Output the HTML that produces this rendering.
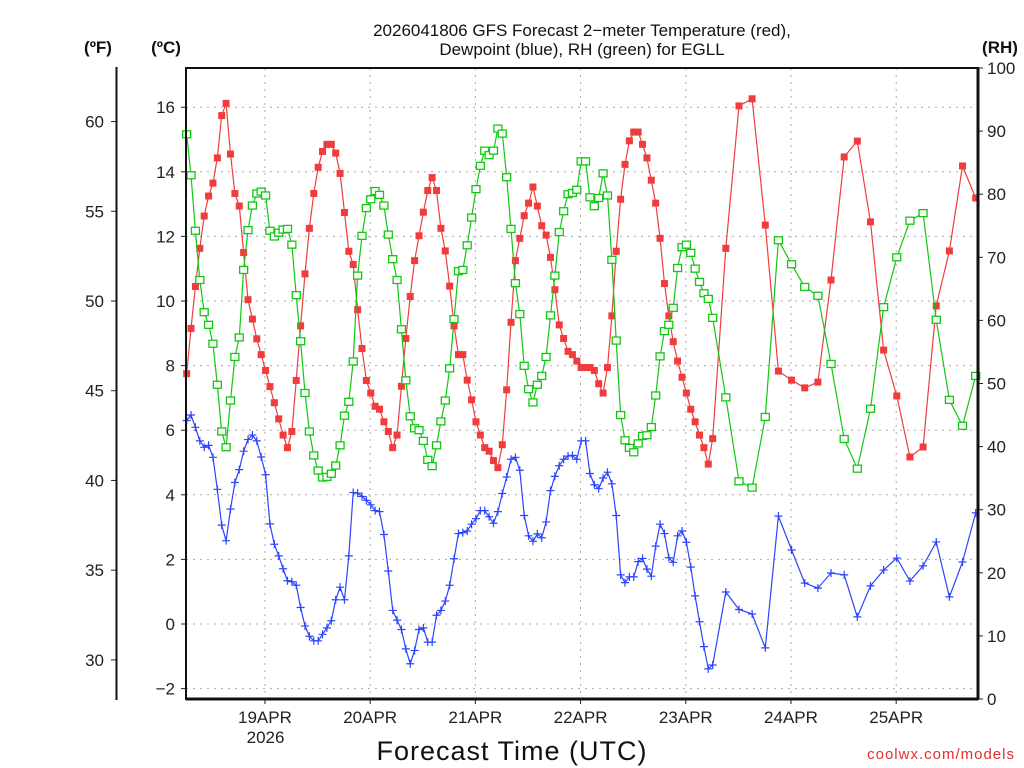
<!DOCTYPE html>
<html><head><meta charset="utf-8"><style>
body{margin:0;background:#fff;}
svg{display:block;font-family:"Liberation Sans",sans-serif;}
</style></head><body>
<svg id="chart" width="1024" height="768" viewBox="0 0 1024 768">
<rect width="1024" height="768" fill="#fff"/>
<text x="582" y="36" text-anchor="middle" font-size="17" fill="#111">2026041806 GFS Forecast 2−meter Temperature (red),</text>
<text x="582" y="55" text-anchor="middle" font-size="17" fill="#111">Dewpoint (blue), RH (green) for EGLL</text>
<text x="98" y="53" text-anchor="middle" font-size="17" font-weight="bold" fill="#111">(ºF)</text>
<text x="166" y="53" text-anchor="middle" font-size="17" font-weight="bold" fill="#111">(ºC)</text>
<text x="1000" y="53" text-anchor="middle" font-size="17" font-weight="bold" fill="#111">(RH)</text>
<text x="512" y="760" text-anchor="middle" font-size="27" fill="#111" letter-spacing="1">Forecast Time (UTC)</text>
<text x="1015" y="759" text-anchor="end" font-size="15" fill="#e03030" letter-spacing="1">coolwx.com/models</text>
<g id="grid"></g>
<g id="series"></g>
<g id="axes"></g>
</svg>
<script>
// time axis: hours from 18APR 06Z
const hourlyEnd = 120, stepAfter = 3, lastHour = 180;
const dayLabels = ["19APR","20APR","21APR","22APR","23APR","24APR","25APR"];
const dayHours = [18,42,66,90,114,138,162];
const celsiusTicks = [-2,0,2,4,6,8,10,12,14,16];
const fahrenheitTicks = [30,35,40,45,50,55,60];
const rhTicks = [0,10,20,30,40,50,60,70,80,90,100];

const temperature = [7.75,9.15,10.45,11.63,12.63,13.25,13.65,14.43,15.74,16.12,14.55,13.33,12.94,11.5,10.04,9.44,8.83,8.34,7.85,7.35,6.85,6.35,5.85,5.46,5.96,7.54,9.23,10.84,12.25,13.33,14.14,14.63,14.85,14.85,14.58,13.95,12.74,11.54,11.13,9.73,8.53,7.54,7.15,6.74,6.65,6.26,5.96,5.46,5.85,7.36,8.84,10.14,11.25,12.02,12.75,13.42,13.82,13.42,12.25,11.55,10.46,9.23,8.34,8.34,7.55,6.94,6.26,5.85,5.46,5.35,5.06,4.84,5.55,7.25,9.34,11.25,11.94,12.64,13.03,13.53,12.94,12.33,12.04,11.35,10.35,9.26,8.84,8.44,8.34,8.14,7.94,7.94,7.94,7.85,7.44,7.15,7.94,9.54,11.54,13.15,14.23,14.96,15.23,15.23,14.85,14.43,13.74,13.03,11.94,10.54,9.54,8.74,8.14,7.64,7.15,6.65,6.26,5.85,5.46,4.95,5.74,
11.63,16.04,16.26,12.35,7.83,7.55,7.31,7.49,10.65,14.46,14.95,12.45,8.48,7.06,5.17,5.48,9.85,11.55,14.18,13.19];
const relHumidity = [89.5,83.0,74.2,66.4,61.3,59.3,56.3,49.8,42.4,39.9,47.3,54.2,57.3,68.0,74.3,78.2,80.1,80.4,79.8,74.2,73.3,73.9,74.4,74.5,72.0,64.0,56.7,48.5,42.4,38.6,36.2,35.1,35.2,35.7,37.0,40.2,44.9,47.1,53.5,67.1,73.4,77.8,79.2,80.5,79.9,78.2,73.6,69.7,66.4,58.6,50.5,44.8,42.9,42.6,40.9,37.9,36.9,40.2,44.0,47.3,52.4,60.2,67.8,68.0,71.9,76.3,80.8,84.5,86.9,86.2,86.9,90.4,89.6,82.7,74.5,65.9,61.0,52.8,49.1,47.0,49.8,51.2,54.2,60.8,67.1,74.0,77.3,80.0,80.2,80.7,85.2,85.2,79.5,78.1,79.4,83.3,79.8,69.6,56.8,45.0,41.0,39.8,39.1,40.5,41.7,41.8,43.1,48.1,54.3,58.3,59.3,62.0,68.3,71.6,72.0,70.7,68.2,66.1,64.3,63.4,60.4,
47.8,34.5,33.5,44.7,72.7,68.9,65.3,63.9,53.1,41.2,36.5,46.0,62.1,70.0,75.8,77.0,60.1,47.4,43.3,51.2];
const dewpoint = [6.30,6.47,6.09,5.67,5.47,5.53,5.16,4.17,3.06,2.58,3.56,4.38,4.78,5.35,5.71,5.85,5.67,5.17,4.62,3.10,2.47,2.11,1.71,1.34,1.31,1.20,0.51,-0.06,-0.38,-0.52,-0.52,-0.32,-0.12,0.10,0.75,1.14,0.75,2.11,4.07,4.05,3.95,3.83,3.69,3.51,3.48,2.77,1.64,0.42,0.12,-0.17,-0.77,-1.23,-0.82,-0.17,-0.12,-0.56,-0.56,0.27,0.42,0.71,1.20,2.02,2.80,2.83,2.88,3.09,3.26,3.51,3.51,3.32,3.12,3.48,4.04,4.55,5.10,5.16,4.76,3.36,2.73,2.56,2.79,2.67,3.16,4.13,4.57,4.90,5.10,5.20,5.22,5.10,5.67,5.67,4.66,4.31,4.19,4.52,4.70,4.34,3.36,1.52,1.28,1.46,1.46,1.93,2.03,1.70,1.48,2.41,3.09,2.80,2.05,1.91,2.73,2.88,2.53,1.76,0.87,0.07,-0.70,-1.39,-1.27,
0.99,0.45,0.31,-0.74,3.34,2.29,1.27,1.11,1.58,1.52,0.22,1.18,1.67,2.04,1.33,1.80,2.54,0.84,1.92,3.44];

const hours = [];
for (let h = 0; h <= hourlyEnd; h++) hours.push(h);
for (let h = hourlyEnd + stepAfter; h <= lastHour; h += stepAfter) hours.push(h);

const L = 186, R = 978, T = 68, B = 699;
const xScale = h => L + (h + 0.15) * 4.3835;
const yC = c => 624 - c * 32.3;
const yF = f => yC((f - 32) * 5 / 9);
const yRH = r => B - r * (B - T) / 100;
const NS = "http://www.w3.org/2000/svg";
function mk(tag, attrs, parent) {
  const e = document.createElementNS(NS, tag);
  for (const k in attrs) e.setAttribute(k, attrs[k]);
  parent.appendChild(e);
  return e;
}
const grid = document.getElementById('grid');
const axes = document.getElementById('axes');
const series = document.getElementById('series');

celsiusTicks.forEach(c => {
  const y = yC(c);
  const g = mk('line', {x1: L, x2: R, y1: y, y2: y, stroke: '#aaa', 'stroke-dasharray': '2,5', 'stroke-width': 1}, grid);
  
  
  const t = mk('line', {x1: L - 5, x2: L, y1: y, y2: y, stroke: '#222', 'stroke-width': 1}, axes);
  
  
  const lb = mk('text', {x: L - 11, y: y + 6, 'text-anchor': 'end', 'font-size': 17, fill: '#222'}, axes);
  lb.textContent = c < 0 ? '−' + Math.abs(c) : String(c);
  
  
});
dayHours.forEach((h, i) => {
  const x = xScale(h) - 0.6;
  const g = mk('line', {x1: x, x2: x, y1: T, y2: B, stroke: '#aaa', 'stroke-dasharray': '2,5', 'stroke-width': 1}, grid);
  
  
  const t = mk('line', {x1: x, x2: x, y1: B, y2: B + 5, stroke: '#222', 'stroke-width': 1}, axes);
  
  
  const lb = mk('text', {x: x, y: B + 24, 'text-anchor': 'middle', 'font-size': 17, fill: '#222'}, axes);
  lb.textContent = dayLabels[i];
  
  
});
const yr = mk('text', {x: xScale(dayHours[0]), y: B + 44, 'text-anchor': 'middle', 'font-size': 17, fill: '#222'}, axes);
yr.textContent = '2026';



fahrenheitTicks.forEach(f => {
  const y = yF(f);
  const t = mk('line', {x1: 111, x2: 116, y1: y, y2: y, stroke: '#222', 'stroke-width': 1}, axes);
  
  
  const lb = mk('text', {x: 104, y: y + 6, 'text-anchor': 'end', 'font-size': 17, fill: '#222'}, axes);
  lb.textContent = String(f);
  
  
});
rhTicks.forEach(r => {
  const y = yRH(r);
  const t = mk('line', {x1: R, x2: R + 5, y1: y, y2: y, stroke: '#222', 'stroke-width': 1}, axes);
  
  
  const lb = mk('text', {x: 987, y: y + 6, 'text-anchor': 'start', 'font-size': 17, fill: '#222'}, axes);
  lb.textContent = String(r);
  
  
});
const fAxis = mk('line', {x1: 116.5, x2: 116.5, y1: T - 1, y2: B + 1, stroke: '#111', 'stroke-width': 2}, axes);


const frame = mk('path', {d: `M${L},${B} L${L},${T} L${R},${T} L${R},${B} Z`, fill: 'none', stroke: '#111', 'stroke-width': 2}, axes);


const rAxis = mk('line', {x1: R, x2: R, y1: T, y2: B, stroke: '#111', 'stroke-width': 3}, axes);


const bAxis = mk('line', {x1: L, x2: R, y1: B, y2: B, stroke: '#111', 'stroke-width': 3}, axes);



function drawLine(vals, yfn, color, name) {
  const pts = vals.map((v, i) => xScale(hours[i]).toFixed(1) + ',' + yfn(v).toFixed(1)).join(' ');
  const pl = mk('polyline', {points: pts, fill: 'none', stroke: color, 'stroke-width': 1.2}, series);
  
  
}
// temperature
drawLine(temperature, yC, '#f03c3c', 'temperature');
temperature.forEach((v, i) => {
  const m = mk('rect', {x: xScale(hours[i]) - 3.5, y: yC(v) - 3.5, width: 7, height: 7, fill: '#f03c3c'}, series);
  
  
});
// RH
drawLine(relHumidity, yRH, '#10c810', 'rh');
relHumidity.forEach((v, i) => {
  const m = mk('rect', {x: xScale(hours[i]) - 4, y: yRH(v) - 3.5, width: 8, height: 7, fill: '#fff', stroke: '#10c810', 'stroke-width': 1.3}, series);
  
  
});
// dewpoint
drawLine(dewpoint, yC, '#2a44ff', 'dewpoint');
dewpoint.forEach((v, i) => {
  const x = xScale(hours[i]), y = yC(v);
  const m = mk('path', {d: `M${x - 4},${y} H${x + 4} M${x},${y - 4} V${y + 4}`, stroke: '#2a44ff', 'stroke-width': 1.2, fill: 'none'}, series);
  
  
});
</script>
</body></html>
